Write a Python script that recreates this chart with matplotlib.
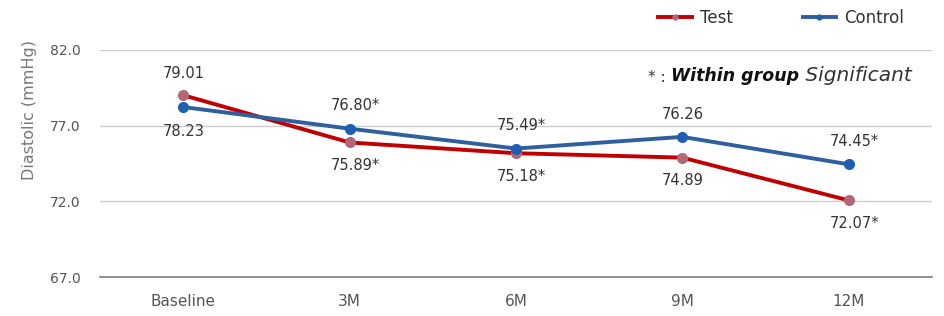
import matplotlib.pyplot as plt

visits = ["Baseline", "3M", "6M", "9M", "12M"]
test = [79.01, 75.89, 75.18, 74.89, 72.07]
control = [78.23, 76.80, 75.49, 76.26, 74.45]
test_sig = [False, True, True, False, True]
control_sig = [False, True, True, False, True]
yticks = [67.0, 72.0, 77.0, 82.0]

fig = plt.figure(figsize=(9.45, 3.16), dpi=100)
ax = fig.add_axes([0.106, 0.123, 0.88, 0.719])

x = range(len(visits))
ax.plot(x, test, color="#c00000", lw=2.8, marker="o", ms=7,
        mfc="#b06878", mec="#b06878", label="Test", zorder=3)
ax.plot(x, control, color="#2f5f9f", lw=2.8, marker="o", ms=7,
        mfc="#1f5fae", mec="#1f5fae", label="Control", zorder=4)

# value labels: test below (except baseline), control above (except baseline)
for i, v in enumerate(test):
    s = f"{v:.2f}" + ("*" if test_sig[i] else "")
    up = i == 0
    ax.annotate(s, (i, v), xytext=(4 if test_sig[i] else 0, 10 if up else -11),
                textcoords="offset points", ha="center",
                va="bottom" if up else "top", fontsize=10.5, color="#333333")
for i, v in enumerate(control):
    s = f"{v:.2f}" + ("*" if control_sig[i] else "")
    up = i != 0
    ax.annotate(s, (i, v), xytext=(4 if control_sig[i] else 0, 11 if up else -12),
                textcoords="offset points", ha="center",
                va="bottom" if up else "top", fontsize=10.5, color="#333333")

ax.set_xlim(-0.5, len(visits) - 0.5)
ax.set_ylim(67, 82)
ax.set_yticks(yticks)
ax.set_yticklabels([f"{t:.1f}" for t in yticks])
ax.set_xticks(list(x))
ax.set_xticklabels(visits)
ax.tick_params(axis="both", length=0, colors="#555555")
ax.tick_params(axis="y", pad=14, labelsize=10)
ax.tick_params(axis="x", pad=12, labelsize=11)
ax.grid(axis="y", color="#cccccc", lw=1)
ax.set_axisbelow(True)
for sp in ["top", "right", "left"]:
    ax.spines[sp].set_visible(False)
ax.spines["bottom"].set_color("#888888")
ax.spines["bottom"].set_linewidth(1.3)
ax.set_ylabel("Diastolic (mmHg)", color="#777777", fontsize=11.5)
ax.yaxis.set_label_coords(-0.076, 0.735)

ax.legend(loc="lower right", bbox_to_anchor=(0.985, 1.035), ncol=2, frameon=False,
          fontsize=12, handlelength=2.0, handletextpad=0.5, columnspacing=4.2,
          markerscale=0.5, labelcolor="#333333")

t1 = ax.text(0.659, 0.86, "* : ", transform=ax.transAxes, fontsize=11, color="#333333")
t2 = ax.annotate("Within group", xy=(1, 0), xycoords=t1, fontsize=12.5,
                 fontweight="bold", fontstyle="italic", color="#111111", va="bottom")
ax.annotate(" Significant", xy=(1, 0), xycoords=t2, fontsize=14.5,
            fontstyle="italic", color="#333333", va="bottom")

fig.savefig("out.png", dpi=100)
